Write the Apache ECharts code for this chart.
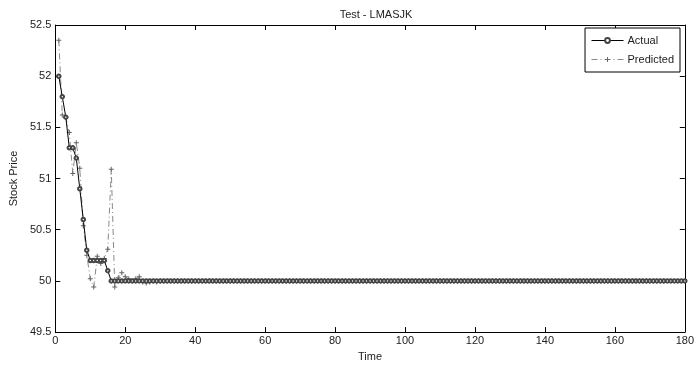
<!DOCTYPE html>
<html>
<head>
<meta charset="utf-8">
<script src="https://cdn.jsdelivr.net/npm/echarts@6/dist/echarts.min.js"></script>
<style>html,body{margin:0;padding:0;background:#fff}#c{width:697px;height:367px}</style>
</head>
<body>
<div id="c"></div>
<script>
var titleText = 'Test - LMASJK';
var xName = 'Time';
var yName = 'Stock Price';
var seriesNames = ['Actual', 'Predicted'];
var xTicks = [0, 20, 40, 60, 80, 100, 120, 140, 160, 180];
var yTicks = [49.5, 50, 50.5, 51, 51.5, 52, 52.5];

var actual = [
52.0,51.8,51.6,51.3,51.3,51.2,50.9,50.6,50.3,50.2,50.2,50.2,50.2,50.2,50.1,50.0,
50.0,50.0,50.0,50.0,50.0,50.0,50.0,50.0,50.0,50.0,50.0,50.0,50.0,50.0,50.0,50.0,50.0,50.0,
50.0,50.0,50.0,50.0,50.0,50.0,50.0,50.0,50.0,50.0,50.0,50.0,50.0,50.0,50.0,50.0,50.0,50.0,
50.0,50.0,50.0,50.0,50.0,50.0,50.0,50.0,50.0,50.0,50.0,50.0,50.0,50.0,50.0,50.0,50.0,50.0,
50.0,50.0,50.0,50.0,50.0,50.0,50.0,50.0,50.0,50.0,50.0,50.0,50.0,50.0,50.0,50.0,50.0,50.0,
50.0,50.0,50.0,50.0,50.0,50.0,50.0,50.0,50.0,50.0,50.0,50.0,50.0,50.0,50.0,50.0,50.0,50.0,
50.0,50.0,50.0,50.0,50.0,50.0,50.0,50.0,50.0,50.0,50.0,50.0,50.0,50.0,50.0,50.0,50.0,50.0,
50.0,50.0,50.0,50.0,50.0,50.0,50.0,50.0,50.0,50.0,50.0,50.0,50.0,50.0,50.0,50.0,50.0,50.0,
50.0,50.0,50.0,50.0,50.0,50.0,50.0,50.0,50.0,50.0,50.0,50.0,50.0,50.0,50.0,50.0,50.0,50.0,
50.0,50.0,50.0,50.0,50.0,50.0,50.0,50.0,50.0,50.0,50.0,50.0,50.0,50.0,50.0,50.0,50.0,50.0,
50.0,50.0
];

var predicted = [
52.35,51.62,51.6,51.45,51.05,51.35,51.1,50.54,50.25,50.02,49.94,50.24,50.17,50.22,50.31,51.09,
49.94,50.03,50.08,50.04,50.02,50.0,50.02,50.04,49.99,49.98,49.99,50.0,49.99,50.0,
50.0,50.0,50.0,50.0,50.0,50.0,50.0,50.0,50.0,50.0,50.0,50.0,50.0,50.0,50.0,50.0,50.0,50.0,
50.0,50.0,50.0,50.0,50.0,50.0,50.0,50.0,50.0,50.0,50.0,50.0,50.0,50.0,50.0,50.0,50.0,50.0,
50.0,50.0,50.0,50.0,50.0,50.0,50.0,50.0,50.0,50.0,50.0,50.0,50.0,50.0,50.0,50.0,50.0,50.0,
50.0,50.0,50.0,50.0,50.0,50.0,50.0,50.0,50.0,50.0,50.0,50.0,50.0,50.0,50.0,50.0,50.0,50.0,
50.0,50.0,50.0,50.0,50.0,50.0,50.0,50.0,50.0,50.0,50.0,50.0,50.0,50.0,50.0,50.0,50.0,50.0,
50.0,50.0,50.0,50.0,50.0,50.0,50.0,50.0,50.0,50.0,50.0,50.0,50.0,50.0,50.0,50.0,50.0,50.0,
50.0,50.0,50.0,50.0,50.0,50.0,50.0,50.0,50.0,50.0,50.0,50.0,50.0,50.0,50.0,50.0,50.0,50.0,
50.0,50.0,50.0,50.0,50.0,50.0,50.0,50.0,50.0,50.0,50.0,50.0,50.0,50.0,50.0,50.0,50.0,50.0
];

function pairs(arr) { return arr.map(function (v, i) { return [i + 1, v]; }); }

var FONT = 'Liberation Sans, Arial, sans-serif';
var TXT = '#222';
var xMin = xTicks[0], xMax = xTicks[xTicks.length - 1], xInt = xTicks[1] - xTicks[0];
var yMin = yTicks[0], yMax = yTicks[yTicks.length - 1], yInt = yTicks[1] - yTicks[0];

function axisBase(extra) {
  var a = {
    type: 'value',
    axisLine: { show: true, onZero: false, lineStyle: { color: '#000', width: 1 } },
    axisTick: { show: true, inside: true, length: 5, lineStyle: { color: '#000' } },
    splitLine: { show: false },
    axisLabel: { color: TXT, fontSize: 11, fontFamily: FONT }
  };
  for (var k in extra) a[k] = extra[k];
  return a;
}

var chart = echarts.init(document.getElementById('c'), null, { renderer: 'canvas' });
chart.setOption({
  animation: false,
  backgroundColor: '#fff',
  title: {
    text: titleText, left: 371, top: 4, textAlign: 'center',
    textStyle: { fontSize: 11, fontWeight: 'normal', color: TXT, fontFamily: FONT }
  },
  grid: { left: 53, right: 8, top: 25, bottom: 31, containLabel: false },
  legend: {
    orient: 'vertical', right: 17, top: 28,
    backgroundColor: '#fff', borderColor: '#000', borderWidth: 1, borderRadius: 0,
    padding: [7, 6, 7, 6], itemGap: 8, itemWidth: 32, itemHeight: 6,
    lineStyle: { width: 1 },
    textStyle: { fontSize: 11, color: TXT, fontFamily: FONT, padding: [0, 0, 0, -1] },
    data: seriesNames
  },
  xAxis: [
    axisBase({ min: xMin, max: xMax, interval: xInt, position: 'bottom',
      name: xName, nameLocation: 'middle', nameGap: 17,
      nameTextStyle: { fontSize: 11, color: TXT, fontFamily: FONT },
      axisLabel: { color: TXT, fontSize: 11, fontFamily: FONT, margin: 3 } }),
    axisBase({ min: xMin, max: xMax, interval: xInt, position: 'top', axisLabel: { show: false } })
  ],
  yAxis: [
    axisBase({ min: yMin, max: yMax, interval: yInt, position: 'left',
      name: yName, nameLocation: 'middle', nameGap: 31,
      nameTextStyle: { fontSize: 11, color: TXT, fontFamily: FONT },
      axisLabel: { color: TXT, fontSize: 11, fontFamily: FONT, margin: 4 } }),
    axisBase({ min: yMin, max: yMax, interval: yInt, position: 'right', axisLabel: { show: false } })
  ],
  series: [
    {
      name: seriesNames[0], type: 'line', xAxisIndex: 0, yAxisIndex: 0,
      data: pairs(actual),
      symbol: 'emptyCircle', symbolSize: 3.5, showAllSymbol: true,
      lineStyle: { color: '#000', width: 1 },
      itemStyle: { color: '#444', borderColor: '#444', borderWidth: 0.8 },
      z: 3
    },
    {
      name: seriesNames[1], type: 'line', xAxisIndex: 0, yAxisIndex: 0,
      data: pairs(predicted),
      symbol: 'path://M4,0H6V4H10V6H6V10H4V6H0V4H4Z', symbolSize: 5, showAllSymbol: true,
      lineStyle: { color: '#8a8a8a', width: 1, type: [6, 3, 1, 3] },
      itemStyle: { color: '#666' },
      z: 2
    }
  ]
});
</script>
</body>
</html>
